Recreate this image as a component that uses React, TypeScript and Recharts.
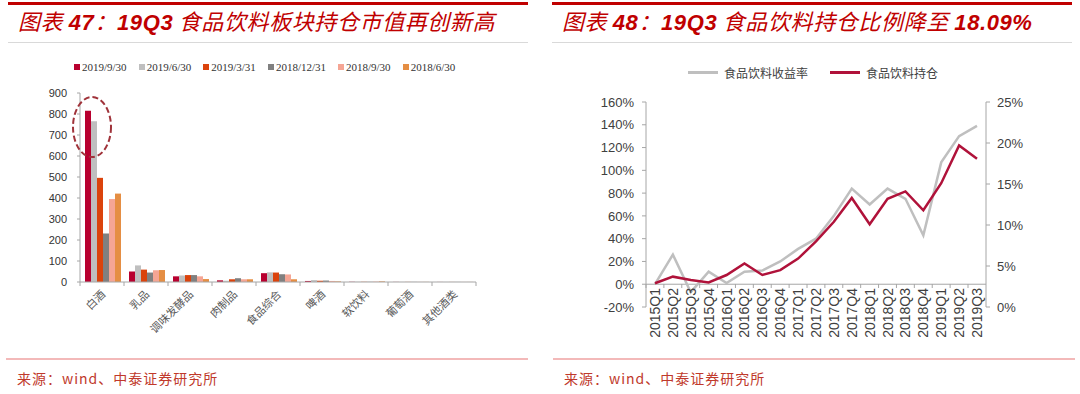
import React from "react";
import { BarChart, Bar, XAxis, YAxis, LineChart, Line, ReferenceLine, ReferenceDot } from "recharts";

// 图表47：持仓市值（亿元）
const categories = ["白酒", "乳品", "调味发酵品", "肉制品", "食品综合", "啤酒", "软饮料", "葡萄酒", "其他酒类"];
const q20190930 = [815, 50, 27, 8, 42, 5, 1, 0.5, 0.3];
const q20190630 = [766, 79, 31, 6, 46, 9, 1, 0.5, 0.3];
const q20190331 = [496, 59, 33, 13, 45, 6, 1, 0.5, 0.3];
const q20181231 = [231, 45, 33, 18, 37, 7, 1, 0.5, 0.3];
const q20180930 = [395, 56, 27, 13, 36, 5, 2, 0.5, 0.3];
const q20180630 = [421, 57, 14, 13, 13, 3, 3, 0.5, 0.3];
const barTicks = [0, 100, 200, 300, 400, 500, 600, 700, 800, 900];

// 图表48：收益率（左轴）与持仓比例（右轴）
const quarters = [
  "2015Q1", "2015Q2", "2015Q3", "2015Q4", "2016Q1", "2016Q2", "2016Q3", "2016Q4",
  "2017Q1", "2017Q2", "2017Q3", "2017Q4", "2018Q1", "2018Q2", "2018Q3", "2018Q4",
  "2019Q1", "2019Q2", "2019Q3",
];
const returns = [0, 26, -7, 11, 1, 11, 12, 20, 31, 40, 60, 84, 70, 84, 75, 43, 107, 130, 139];
const holdings = [2.9, 3.7, 3.3, 3.0, 3.9, 5.3, 3.9, 4.5, 5.9, 8.0, 10.4, 13.3, 10.1, 13.2, 14.1, 11.8, 15.1, 19.7, 18.09];
const leftTicks = [-20, 0, 20, 40, 60, 80, 100, 120, 140, 160];
const rightTicks = [0, 5, 10, 15, 20, 25];

const barSeries = [
  { key: "a", name: "2019/9/30", color: "#B8002F", values: q20190930 },
  { key: "b", name: "2019/6/30", color: "#BFBFBF", values: q20190630 },
  { key: "c", name: "2019/3/31", color: "#DB430C", values: q20190331 },
  { key: "d", name: "2018/12/31", color: "#808080", values: q20181231 },
  { key: "e", name: "2018/9/30", color: "#F5A594", values: q20180930 },
  { key: "f", name: "2018/6/30", color: "#E58E43", values: q20180630 },
];

const barData = categories.map((name, i) => {
  const row: any = { name };
  barSeries.forEach((s) => (row[s.key] = s.values[i]));
  return row;
});

const lineData = quarters.map((q, i) => ({ q, ret: returns[i], hold: holdings[i] }));

const CN = "'Noto Sans CJK SC', sans-serif";
const NUM = "'Liberation Sans', Arial, sans-serif";
const AXIS = "#A6A6A6";

const BarTick = (props: any) => {
  const { x, y, payload, index } = props;
  const ax = x + 4;
  const ay = y + 13;
  return (
    <g>
      <line x1={x - 22} x2={x - 22} y1={y} y2={y + 4} stroke={AXIS} />
      {index === categories.length - 1 && <line x1={x + 22} x2={x + 22} y1={y} y2={y + 4} stroke={AXIS} />}
      <text x={ax} y={ay} transform={`rotate(-45 ${ax} ${ay})`} textAnchor="end" fontSize={11} fill="#595959" fontFamily={CN}>
        {payload.value}
      </text>
    </g>
  );
};

const QuarterTick = (props: any) => {
  const { x, y, payload } = props;
  const ty = y - 19;
  return (
    <g>
      <line x1={x - 9} x2={x - 9} y1={y - 23} y2={y - 19} stroke={AXIS} />
      <text x={x} y={ty} transform={`rotate(-90 ${x} ${ty})`} textAnchor="end" dominantBaseline="central" fontSize={14} fill="#404040" fontFamily={NUM}>
        {payload.value}
      </text>
    </g>
  );
};

const Title = ({ left, num, text }: { left: number; num: string; text: React.ReactNode }) => (
  <div style={{ position: "absolute", left, top: 0, width: 520 }}>
    <div style={{ height: 3, background: "#C00000", marginTop: 2 }} />
    <div style={{ fontFamily: CN, fontStyle: "italic", color: "#C00000", fontSize: 22, letterSpacing: 0.6, lineHeight: "30px", paddingLeft: 10, whiteSpace: "nowrap" }}>
      图表 <b style={{ fontFamily: NUM }}>{num}</b>：<b style={{ fontFamily: NUM }}>19Q3</b> {text}
    </div>
    <div style={{ height: 1, background: "#D9D9D9", marginTop: 4 }} />
  </div>
);

const Source = ({ left }: { left: number }) => (
  <div style={{ position: "absolute", left, top: 358, width: 522 }}>
    <div style={{ height: 2, background: "#F3B9B9" }} />
    <div style={{ fontFamily: CN, color: "#C0392B", fontSize: 14, letterSpacing: 1, marginTop: 8, paddingLeft: 11 }}>来源：wind、中泰证券研究所</div>
  </div>
);

export default function App() {
  return (
    <div style={{ position: "absolute", left: 0, top: 0, width: 1080, height: 394, background: "#fff", overflow: "hidden" }}>
      <Title left={8} num="47" text="食品饮料板块持仓市值再创新高" />
      <Title left={552} num="48" text={<span>食品饮料持仓比例降至 <b style={{ fontFamily: NUM }}>18.09%</b></span>} />

      <div style={{ position: "absolute", left: 74, top: 61, display: "flex", gap: 12, fontFamily: "'Liberation Serif', serif", fontSize: 11, color: "#333" }}>
        {barSeries.map((s) => (
          <div key={s.key} style={{ display: "flex", alignItems: "center", gap: 2 }}>
            <span style={{ width: 6, height: 6, background: s.color, display: "inline-block" }} />
            <span>{s.name}</span>
          </div>
        ))}
      </div>

      <div style={{ position: "absolute", left: 0, top: 0 }}>
        <BarChart width={540} height={394} data={barData} margin={{ top: 93, right: 64, bottom: 52, left: 20 }} barCategoryGap={5} barGap={0}>
          <YAxis
            width={60}
            domain={[0, 900]}
            ticks={barTicks}
            interval={0}
            stroke={AXIS}
            tickSize={3}
            tickMargin={10}
            tick={{ fill: "#333", fontSize: 11, fontFamily: NUM }}
          />
          <XAxis dataKey="name" height={60} interval={0} stroke={AXIS} tickLine={false} tickSize={0} tickMargin={0} tick={<BarTick />} />
          {barSeries.map((s) => (
            <Bar key={s.key} dataKey={s.key} name={s.name} fill={s.color} isAnimationActive={false} />
          ))}
          <ReferenceDot
            x="白酒"
            y={738}
            shape={(p: any) => (
              <ellipse cx={p.cx - 10} cy={p.cy} rx={19} ry={30} fill="none" stroke="#A0333A" strokeWidth={2} strokeDasharray="6 3" />
            )}
          />
        </BarChart>
      </div>

      <div style={{ position: "absolute", left: 688, top: 64, display: "flex", alignItems: "center", fontFamily: CN, fontSize: 12, color: "#404040" }}>
        <span style={{ width: 30, height: 2.5, background: "#BFBFBF", display: "inline-block", marginRight: 6 }} />
        <span>食品饮料收益率</span>
        <span style={{ width: 30, height: 2.5, background: "#B0123A", display: "inline-block", margin: "0 6px 0 22px" }} />
        <span>食品饮料持仓</span>
      </div>

      <div style={{ position: "absolute", left: 540, top: 0 }}>
        <LineChart width={540} height={394} data={lineData} margin={{ top: 102, right: 34, bottom: 57, left: 46 }}>
          <XAxis dataKey="q" height={30} interval={0} axisLine={false} tickLine={false} tickSize={0} tickMargin={0} padding={{ left: 9, right: 9 }} tick={<QuarterTick />} />
          <YAxis
            yAxisId="l"
            width={60}
            domain={[-20, 160]}
            ticks={leftTicks}
            interval={0}
            stroke={AXIS}
            tickSize={4}
            tickMargin={8}
            tickFormatter={(v) => `${v}%`}
            tick={{ fill: "#404040", fontSize: 13, fontFamily: NUM }}
          />
          <YAxis
            yAxisId="r"
            orientation="right"
            width={60}
            domain={[0, 25]}
            ticks={rightTicks}
            interval={0}
            stroke={AXIS}
            tickSize={4}
            tickMargin={7}
            tickFormatter={(v) => `${v}%`}
            tick={{ fill: "#404040", fontSize: 13, fontFamily: NUM }}
          />
          <ReferenceLine yAxisId="l" y={0} stroke={AXIS} />
          <Line yAxisId="l" dataKey="ret" name="食品饮料收益率" stroke="#BFBFBF" strokeWidth={2.5} dot={false} isAnimationActive={false} />
          <Line yAxisId="r" dataKey="hold" name="食品饮料持仓" stroke="#B0123A" strokeWidth={2.5} dot={false} isAnimationActive={false} />
        </LineChart>
      </div>

      <Source left={6} />
      <Source left={553} />
    </div>
  );
}
